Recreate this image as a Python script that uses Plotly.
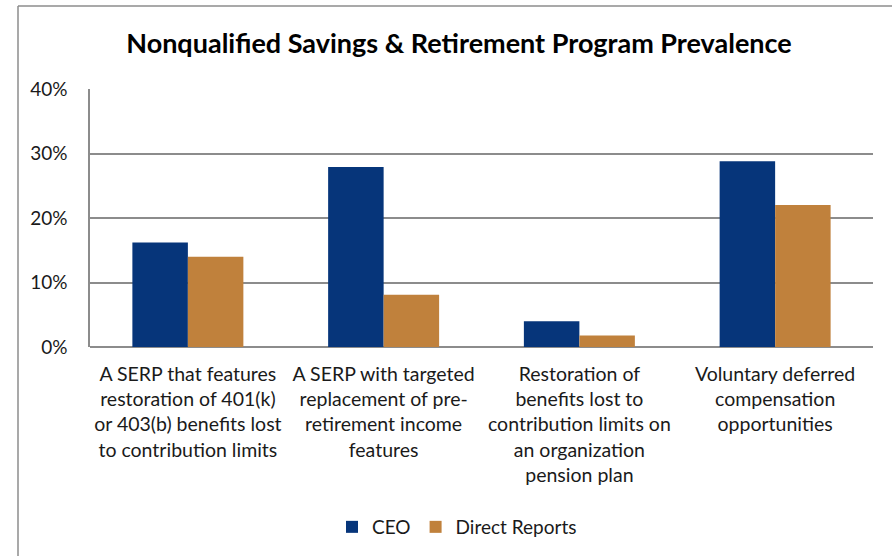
import plotly.graph_objects as go

# Program types (category axis), with line breaks as wrapped in the chart
categories = [
    "A SERP that features<br>restoration of 401(k)<br>or 403(b) benefits lost<br>to contribution limits",
    "A SERP with targeted<br>replacement of pre-<br>retirement income<br>features",
    "Restoration of<br>benefits lost to<br>contribution limits on<br>an organization<br>pension plan",
    "Voluntary deferred<br>compensation<br>opportunities",
]
ceo = [16.2, 27.9, 4.0, 28.8]
direct_reports = [14.0, 8.1, 1.8, 22.0]
y_ticks = [0, 10, 20, 30, 40]
y_tick_labels = ["0%", "10%", "20%", "30%", "40%"]

FONT = "Lato, Carlito, Calibri, sans-serif"
GRID = "#8c8c8c"

fig = go.Figure()
fig.add_trace(go.Bar(name="CEO", x=categories, y=ceo, marker_color="#06357A",
                     marker_line_width=0))
fig.add_trace(go.Bar(name="Direct Reports", x=categories, y=direct_reports,
                     marker_color="#C0813C", marker_line_width=0))

W, H = 892, 556
L, R, T, B = 90, 19, 89, 209
pw, ph = W - L - R, H - T - B


def px_to_paper(px, py):
    return (px - L) / pw, (H - B - py) / ph


# Outer chart frame (left and top edges, running off the page)
x0, y0 = px_to_paper(18, 6)
x1, _ = px_to_paper(W + 10, 6)
_, y1 = px_to_paper(18, H + 10)
fig.add_shape(type="line", xref="paper", yref="paper", x0=x0, y0=y1, x1=x0, y1=y0,
              line=dict(color=GRID, width=1.5))
fig.add_shape(type="line", xref="paper", yref="paper", x0=x0, y0=y0, x1=x1, y1=y0,
              line=dict(color=GRID, width=1.5))

fig.update_layout(
    width=W, height=H,
    margin=dict(l=L, r=R, t=T, b=B, autoexpand=False),
    paper_bgcolor="white", plot_bgcolor="white",
    barmode="group", bargap=0.433, bargroupgap=0,
    font=dict(family=FONT, size=19, color="#1a1a1a"),
    title=dict(text="<b>Nonqualified Savings & Retirement Program Prevalence</b>",
               x=459 / W, xanchor="center", y=1 - 44 / H, yanchor="middle",
               font=dict(family=FONT, size=27, color="#000000")),
    legend=dict(orientation="h", x=(457 - L) / pw, xanchor="center",
                y=-(527 - (H - B)) / ph, yanchor="middle",
                font=dict(size=19), itemwidth=30, traceorder="normal",
                bgcolor="rgba(0,0,0,0)"),
    showlegend=True,
)
fig.update_xaxes(showgrid=False, ticks="", showline=False,
                 tickfont=dict(size=19.5), ticklabelstandoff=13)
fig.update_yaxes(range=[0, 40], tickvals=y_ticks, ticktext=y_tick_labels,
                 showgrid=True, gridcolor=GRID, gridwidth=1.5,
                 zeroline=True, zerolinecolor=GRID, zerolinewidth=1.5,
                 showline=True, linecolor=GRID, linewidth=1.5,
                 ticks="", tickfont=dict(size=19), ticklabelstandoff=17)

fig.write_html("out.html")
